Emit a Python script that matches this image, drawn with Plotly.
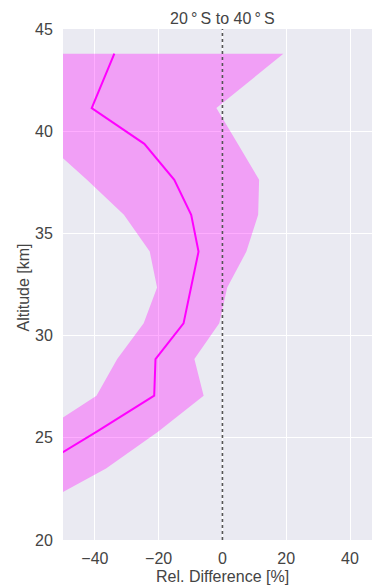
import plotly.graph_objects as go

# Altitude levels [km]
altitude = [43.79, 41.13, 39.38, 37.62, 35.91, 34.11, 32.35, 30.6, 28.85, 27.06, 25.3, 23.5, 21.75]
# Mean relative difference [%]
mean_diff = [-33.9, -41.0, -24.5, -15.1, -9.8, -7.5, -9.85, -12.2, -21.0, -21.4, -39.4, -58.0, -77.0]
# Lower / upper bound of the spread [%]
lower_diff = [-70.0, -65.0, -55.0, -42.5, -30.9, -22.8, -20.5, -24.7, -33.0, -39.5, -56.8, -75.0, -95.0]
upper_diff = [19.1, -1.9, 4.8, 11.5, 11.2, 7.5, 1.5, -1.0, -8.8, -5.9, -20.2, -36.5, -57.0]

x_ticks = [-40, -20, 0, 20, 40]
y_ticks = [20, 25, 30, 35, 40, 45]
title_text = "20\u2009°\u2009S to 40\u2009°\u2009S"
x_title = "Rel. Difference [%]"
y_title = "Altitude [km]"

FONT = "Liberation Sans, Arial, sans-serif"
TXT = "#444444"

fig = go.Figure()
fig.add_trace(go.Scatter(
    x=upper_diff + lower_diff[::-1],
    y=altitude + altitude[::-1],
    fill="toself", mode="none",
    fillcolor="rgba(255,0,255,0.32)",
    hoverinfo="skip", showlegend=False,
))
fig.add_trace(go.Scatter(
    x=mean_diff, y=altitude, mode="lines",
    line=dict(color="#ff00ff", width=2),
    showlegend=False,
))
fig.add_shape(type="line", xref="x", yref="paper", x0=0, x1=0, y0=0, y1=1,
              line=dict(color="#555555", width=1.6, dash="dot"), layer="above")

W, H = 372, 587
L, R, T, B = 63, 0, 29, 47
fig.update_layout(
    width=W, height=H,
    margin=dict(l=L, r=R, t=T, b=B, autoexpand=False),
    paper_bgcolor="white",
    plot_bgcolor="#EAEAF2",
    font=dict(family=FONT, size=16, color=TXT),
    xaxis=dict(range=[-50, 46.9], tickvals=x_ticks, showgrid=True, gridcolor="white",
               gridwidth=1.3, zeroline=False, showline=False, ticks="outside",
               ticklen=4, tickcolor="rgba(0,0,0,0)", tickfont=dict(size=16, color=TXT)),
    yaxis=dict(range=[20, 45], tickvals=y_ticks, showgrid=True, gridcolor="white",
               gridwidth=1.3, zeroline=False, showline=False, ticks="outside",
               ticklen=6, tickcolor="rgba(0,0,0,0)", tickfont=dict(size=16, color=TXT)),
    annotations=[
        dict(text=title_text, xref="paper", yref="paper",
             x=(222.3 - L) / (W - L - R), y=1 + (T - 18.5) / (H - T - B),
             xanchor="center", yanchor="middle", showarrow=False,
             font=dict(size=16, color=TXT)),
        dict(text=x_title, xref="paper", yref="paper",
             x=(222.3 - L) / (W - L - R), y=-(576 - (H - B)) / (H - T - B),
             xanchor="center", yanchor="middle", showarrow=False,
             font=dict(size=16, color=TXT)),
        dict(text=y_title, xref="paper", yref="paper", textangle=-90,
             x=-(L - 22.5) / (W - L - R), y=(H - B - 288) / (H - T - B),
             xanchor="center", yanchor="middle", showarrow=False,
             font=dict(size=16, color=TXT)),
    ],
)

fig.write_html("out.html")
